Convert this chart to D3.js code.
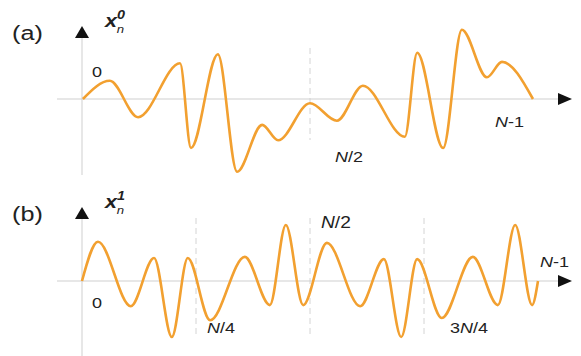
<!DOCTYPE html>
<html>
<head>
<meta charset="utf-8">
<script src="https://cdn.jsdelivr.net/npm/d3@7"></script>
<style>
  body { margin: 0; background: #fff; }
  text { font-family: Arial, "Liberation Sans", sans-serif; fill: #222; }
</style>
</head>
<body>
<div id="chart"></div>
<script>
// position along the signal as a fraction of N, value relative to the axis
const posA = [0.002, 0.061, 0.123, 0.215, 0.239, 0.298, 0.340, 0.395, 0.430, 0.500,
              0.559, 0.616, 0.708, 0.735, 0.792, 0.833, 0.888, 0.921, 0.989];
const valA = [0, 0.26, -0.26, 0.51, -0.70, 0.64, -1.04, -0.37, -0.59, -0.06,
              -0.31, 0.19, -0.54, 0.66, -0.70, 0.99, 0.31, 0.53, 0];

const posB = [0, 0.035, 0.107, 0.158, 0.197, 0.232, 0.281, 0.357, 0.412, 0.447, 0.485,
              0.537, 0.610, 0.662, 0.700, 0.735, 0.789, 0.857, 0.912, 0.950, 0.987, 1.0];
const valB = [0, 0.70, -0.45, 0.41, -1.0, 0.41, -0.70, 0.43, -0.43, 1.0, -0.43,
              0.68, -0.45, 0.39, -1.0, 0.39, -0.66, 0.43, -0.43, 1.0, -0.43, 0];

const marksA = [0.5];
const marksB = [0.25, 0.5, 0.75];

const W = 581, H = 356;
const lineColor = "#f2a030";
const axisColor = "#cfcfcf";
const stretch = 1.2; // labels in the figure are a bit wide

const svg = d3.select("#chart").append("svg")
  .attr("width", W).attr("height", H);

const x = d3.scaleLinear().domain([0, 1]).range([82, 538]);

function label(g, px, py, size) {
  return g.append("text")
    .attr("transform", `translate(${px},${py}) scale(${stretch},1)`)
    .style("font-size", size + "px");
}

function panel(opt) {
  const g = svg.append("g");
  const y = d3.scaleLinear().domain([-1, 1]).range([opt.y0 + opt.unit, opt.y0 - opt.unit]);

  // dashed guides
  g.selectAll("line.guide").data(opt.marks).enter().append("line")
    .attr("class", "guide")
    .attr("x1", d => x(d)).attr("x2", d => x(d))
    .attr("y1", opt.guideTop).attr("y2", opt.guideBottom)
    .attr("stroke", "#d4d4d4").attr("stroke-width", 1)
    .attr("stroke-dasharray", "6,4");

  // horizontal axis
  g.append("line")
    .attr("x1", 57).attr("x2", 560)
    .attr("y1", y(0)).attr("y2", y(0))
    .attr("stroke", axisColor).attr("stroke-width", 1);
  g.append("path")
    .attr("d", `M558,${y(0) - 6}L572,${y(0)}L558,${y(0) + 6}Z`)
    .attr("fill", "#111");

  // vertical axis
  g.append("line")
    .attr("x1", x(0)).attr("x2", x(0))
    .attr("y1", opt.axisTop).attr("y2", opt.axisBottom)
    .attr("stroke", axisColor).attr("stroke-width", 1);
  g.append("path")
    .attr("d", `M${x(0) - 7},${opt.axisTop + 1}L${x(0)},${opt.axisTop - 11}L${x(0) + 7},${opt.axisTop + 1}Z`)
    .attr("fill", "#111");

  // signal
  const pts = opt.pos.map((p, i) => [p, opt.val[i]]);
  g.append("path")
    .datum(pts)
    .attr("fill", "none")
    .attr("stroke", lineColor)
    .attr("stroke-width", 2.6)
    .attr("stroke-linejoin", "round")
    .attr("d", d3.line().x(d => x(d[0])).y(d => y(d[1])).curve(d3.curveMonotoneX));

  // panel letter
  label(g, 12, opt.labelY, 21).text(opt.letter);

  // axis name x_n^k
  const t = label(g, 105, opt.nameY, 18)
    .style("font-style", "italic").style("font-weight", "bold");
  t.append("tspan").text("x");
  t.append("tspan").attr("dx", 0).attr("dy", -8).style("font-size", "12px").text(opt.sup);
  t.append("tspan").attr("dx", -7).attr("dy", 14).style("font-size", "11px")
    .style("font-weight", "normal").text("n");

  // tick labels
  opt.ticks.forEach(tk => {
    const tt = label(g, tk.x, tk.y, tk.size || 15);
    tk.parts.forEach(pt => {
      const s = tt.append("tspan").text(pt[0]);
      if (pt[1]) s.style("font-style", "italic");
    });
  });
}

panel({
  pos: posA, val: valA, y0: 99, unit: 70, marks: marksA,
  guideTop: 48, guideBottom: 140, axisTop: 37, axisBottom: 175,
  letter: "(a)", labelY: 40, nameY: 27, sup: "0",
  ticks: [
    { x: 92, y: 77, parts: [["0"]] },
    { x: 335, y: 162, parts: [["N", true], ["/2"]] },
    { x: 495, y: 127, parts: [["N", true], ["-1"]] }
  ]
});

panel({
  pos: posB, val: valB, y0: 281, unit: 56, marks: marksB,
  guideTop: 218, guideBottom: 336, axisTop: 218, axisBottom: 356,
  letter: "(b)", labelY: 221, nameY: 208, sup: "1",
  ticks: [
    { x: 92, y: 308, parts: [["0"]] },
    { x: 207, y: 333, parts: [["N", true], ["/4"]] },
    { x: 321, y: 228, size: 16, parts: [["N", true], ["/2"]] },
    { x: 450, y: 333, parts: [["3"], ["N", true], ["/4"]] },
    { x: 540, y: 267, parts: [["N", true], ["-1"]] }
  ]
});
</script>
</body>
</html>
